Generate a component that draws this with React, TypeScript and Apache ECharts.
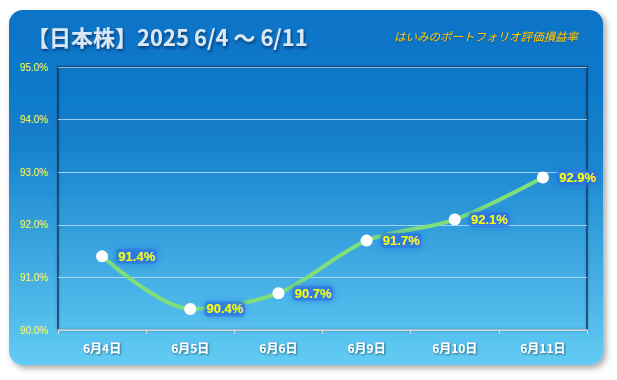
import React, { useEffect, useRef } from "react";
import * as echarts from "echarts";

const categories = ["6月4日", "6月5日", "6月6日", "6月9日", "6月10日", "6月11日"];
const values = [91.4, 90.4, 90.7, 91.7, 92.1, 92.9];
const titleText = "【日本株】2025 6/4 〜 6/11";
const subtitleText = "はいみのポートフォリオ評価損益率";

export default function App() {
  const ref = useRef<HTMLDivElement>(null);
  useEffect(() => {
    document.body.style.margin = "0";
    const chart = echarts.init(ref.current!, null, { renderer: "svg" });
    chart.setOption({
      animation: false,
      backgroundColor: "#ffffff",
      graphic: [
        {
          type: "rect",
          z: -10,
          shape: { x: 9, y: 10, width: 594, height: 355, r: 14 },
          style: {
            fill: new echarts.graphic.LinearGradient(0, 0, 0, 1, [
              { offset: 0, color: "#0b73c7" },
              { offset: 0.35, color: "#137ecb" },
              { offset: 1, color: "#62ccf4" },
            ]),
            shadowBlur: 6,
            shadowOffsetX: 3,
            shadowOffsetY: 3,
            shadowColor: "rgba(0,0,0,0.35)",
          },
        },
        {
          type: "text",
          left: 27,
          top: 25,
          style: {
            text: titleText,
            fill: "#dbe7f3",
            font: "bold 22px 'Noto Sans CJK JP', sans-serif",
            textShadowColor: "rgba(0,20,60,0.6)",
            textShadowBlur: 3,
            textShadowOffsetX: 1,
            textShadowOffsetY: 2,
          },
        },
        {
          type: "text",
          left: 394,
          top: 30,
          style: {
            text: subtitleText,
            fill: "#ffc400",
            font: "italic 11.5px 'Noto Sans CJK JP', sans-serif",
            textShadowColor: "rgba(0,0,0,0.3)",
            textShadowBlur: 2,
            textShadowOffsetY: 1,
          },
        },
      ],
      grid: {
        left: 58,
        right: 30,
        top: 67,
        bottom: 50,
        show: true,
        borderColor: "#0a3a66",
        borderWidth: 1.5,
        backgroundColor: "transparent",
        shadowColor: "rgba(0,0,0,0.3)",
        shadowBlur: 3,
      },
      xAxis: {
        type: "category",
        data: categories,
        boundaryGap: true,
        axisLine: { show: true, lineStyle: { color: "#d8dde3", width: 1.5 } },
        axisTick: { show: true, length: 4, lineStyle: { color: "#d8dde3" } },
        axisLabel: {
          color: "#ffffff",
          fontSize: 12,
          fontWeight: "bold",
          fontFamily: "'Noto Sans CJK JP', sans-serif",
          margin: 11,
          textShadowColor: "rgba(0,0,0,0.5)",
          textShadowBlur: 2,
          textShadowOffsetX: 1,
          textShadowOffsetY: 1,
        },
        splitLine: { show: false },
      },
      yAxis: {
        type: "value",
        min: 90,
        max: 95,
        interval: 1,
        axisLine: { show: false },
        axisTick: { show: false },
        axisLabel: {
          color: "#ffff33",
          fontSize: 10,
          fontFamily: "'Liberation Sans', sans-serif",
          margin: 10,
          formatter: (v: number) => v.toFixed(1) + "%",
        },
        splitLine: { show: true, lineStyle: { color: "rgba(200,230,255,0.75)", width: 1 } },
      },
      series: [
        {
          type: "line",
          data: values,
          smooth: 0.3,
          symbol: "circle",
          symbolSize: 12,
          itemStyle: { color: "#ffffff", borderWidth: 0 },
          lineStyle: { color: "#7fdf7a", width: 4 },
          label: {
            show: true,
            position: "right",
            distance: 8,
            color: "#ffff00",
            fontSize: 13,
            fontWeight: "bold",
            fontFamily: "'Liberation Sans', sans-serif",
            formatter: (p: any) => p.value.toFixed(1) + "%",
            backgroundColor: "rgba(40,115,225,0.6)",
            padding: [1, 2],
            borderRadius: 4,
            shadowColor: "rgba(30,100,230,0.9)",
            shadowBlur: 6,
          },
        },
      ],
    });
    return () => chart.dispose();
  }, []);
  return <div ref={ref} style={{ width: 617, height: 380 }} />;
}
